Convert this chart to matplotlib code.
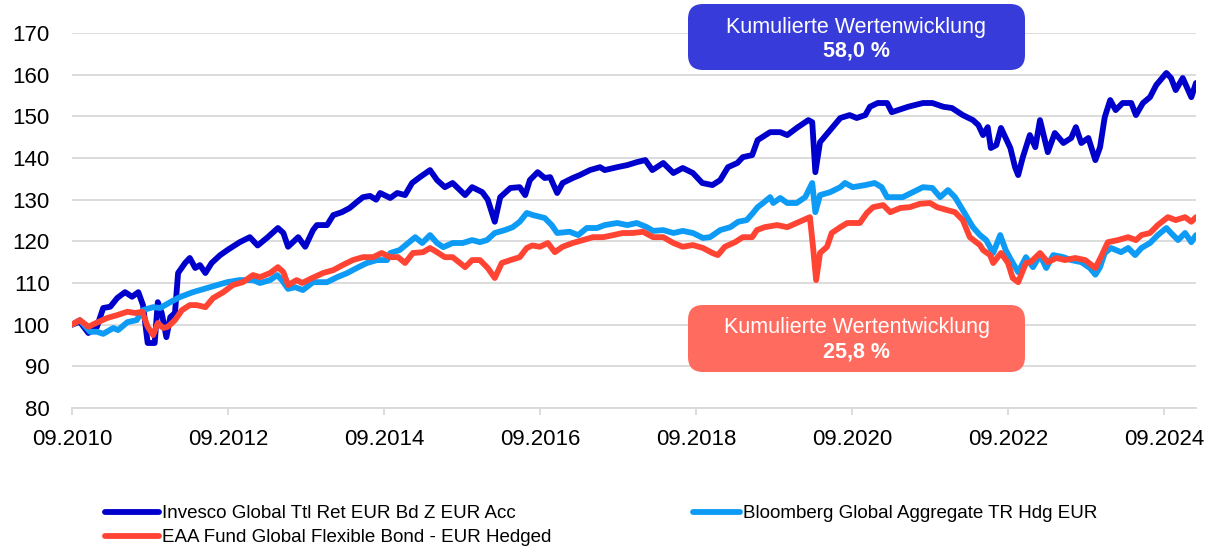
import matplotlib
matplotlib.use('Agg')
import matplotlib.pyplot as plt
from matplotlib.patches import FancyBboxPatch
from matplotlib.lines import Line2D

# Zeitachse in Dezimaljahren, Werte indexiert auf 100
inv_t = [2010.67, 2010.77, 2010.88, 2010.99, 2011.07, 2011.16, 2011.25, 2011.35, 2011.44, 2011.52,
         2011.58, 2011.64, 2011.73, 2011.77, 2011.82, 2011.88, 2011.93, 2011.99, 2012.03, 2012.12,
         2012.18, 2012.25, 2012.31, 2012.38, 2012.46, 2012.57, 2012.67, 2012.82, 2012.95, 2013.05,
         2013.18, 2013.31, 2013.38, 2013.44, 2013.57, 2013.66, 2013.76, 2013.81, 2013.94, 2014.02,
         2014.13, 2014.23, 2014.32, 2014.40, 2014.49, 2014.57, 2014.62, 2014.75, 2014.84, 2014.94,
         2015.03, 2015.13, 2015.26, 2015.35, 2015.45, 2015.55, 2015.71, 2015.80, 2015.93, 2016.00,
         2016.09, 2016.16, 2016.29, 2016.41, 2016.48, 2016.54, 2016.64, 2016.73, 2016.80, 2016.89,
         2016.96, 2017.09, 2017.18, 2017.31, 2017.44, 2017.50, 2017.66, 2017.79, 2017.91, 2018.02,
         2018.11, 2018.25, 2018.38, 2018.50, 2018.63, 2018.75, 2018.88, 2018.98, 2019.08, 2019.20,
         2019.27, 2019.39, 2019.46, 2019.62, 2019.75, 2019.84, 2019.96, 2020.11, 2020.16, 2020.20,
         2020.26, 2020.39, 2020.52, 2020.64, 2020.73, 2020.84, 2020.90, 2021.00, 2021.12, 2021.18,
         2021.26, 2021.39, 2021.58, 2021.70, 2021.84, 2021.95, 2022.09, 2022.22, 2022.29, 2022.35,
         2022.41, 2022.45, 2022.52, 2022.58, 2022.64, 2022.70, 2022.76, 2022.80, 2022.86, 2022.95,
         2023.02, 2023.08, 2023.18, 2023.27, 2023.38, 2023.48, 2023.54, 2023.61, 2023.70, 2023.79,
         2023.85, 2023.91, 2023.98, 2024.05, 2024.14, 2024.25, 2024.31, 2024.40, 2024.49, 2024.57,
         2024.70, 2024.76, 2024.82, 2024.91, 2024.98, 2025.02, 2025.08]
inv_v = [100.0, 100.7, 98.0, 99.5, 104.0, 104.3, 106.4, 107.8, 106.7, 107.8,
         104.7, 95.6, 95.6, 105.4, 102.8, 97.0, 101.8, 102.8, 112.4, 114.8,
         116.0, 113.6, 114.3, 112.4, 114.8, 116.7, 118.0, 119.8, 121.0, 119.0,
         121.0, 123.2, 122.0, 118.7, 121.0, 118.7, 122.7, 123.9, 123.9, 126.3,
         127.0, 128.0, 129.4, 130.6, 130.9, 130.0, 131.6, 130.4, 131.6, 131.1,
         134.0, 135.4, 137.1, 134.7, 133.0, 134.0, 131.1, 133.0, 131.8, 130.0,
         124.7, 130.6, 132.8, 133.0, 131.1, 134.7, 136.6, 135.2, 135.4, 131.6,
         134.0, 135.2, 135.9, 137.1, 137.8, 137.1, 137.8, 138.3, 139.0, 139.5,
         137.1, 138.8, 136.4, 137.6, 136.4, 134.0, 133.5, 134.7, 137.8, 138.8,
         140.2, 140.7, 144.3, 146.2, 146.2, 145.5, 147.2, 149.1, 148.6, 136.6,
         143.8, 146.7, 149.6, 150.3, 149.6, 150.3, 152.3, 153.2, 153.2, 151.0,
         151.5, 152.3, 153.2, 153.2, 152.3, 152.0, 150.3, 149.1, 147.9, 145.5,
         147.4, 142.4, 143.1, 147.2, 144.8, 142.4, 137.8, 135.9, 140.2, 145.5,
         142.6, 149.1, 141.4, 146.0, 143.6, 144.8, 147.4, 143.6, 144.8, 139.5,
         142.6, 149.8, 153.9, 151.5, 153.2, 153.2, 150.3, 153.2, 154.6, 157.5,
         160.4, 159.2, 156.3, 159.2, 156.3, 154.6, 158.0]

bbg_t = [2010.67, 2010.77, 2010.90, 2010.99, 2011.07, 2011.20, 2011.26, 2011.38, 2011.50, 2011.58,
         2011.71, 2011.80, 2011.93, 2012.05, 2012.22, 2012.40, 2012.53, 2012.66, 2012.82, 2012.99,
         2013.08, 2013.21, 2013.30, 2013.36, 2013.44, 2013.53, 2013.63, 2013.76, 2013.94, 2014.07,
         2014.20, 2014.32, 2014.45, 2014.58, 2014.71, 2014.75, 2014.87, 2014.98, 2015.07, 2015.16,
         2015.26, 2015.35, 2015.43, 2015.55, 2015.68, 2015.80, 2015.90, 2015.99, 2016.09, 2016.22,
         2016.32, 2016.41, 2016.50, 2016.58, 2016.73, 2016.82, 2016.89, 2017.05, 2017.16, 2017.27,
         2017.40, 2017.50, 2017.66, 2017.79, 2017.91, 2018.04, 2018.12, 2018.25, 2018.38, 2018.50,
         2018.63, 2018.76, 2018.85, 2018.98, 2019.11, 2019.21, 2019.32, 2019.40, 2019.46, 2019.53,
         2019.62, 2019.66, 2019.75, 2019.84, 2019.96, 2020.07, 2020.16, 2020.20, 2020.26, 2020.39,
         2020.52, 2020.58, 2020.68, 2020.84, 2020.96, 2021.05, 2021.12, 2021.20, 2021.32, 2021.45,
         2021.58, 2021.70, 2021.80, 2021.90, 2021.99, 2022.09, 2022.22, 2022.31, 2022.39, 2022.48,
         2022.57, 2022.64, 2022.71, 2022.80, 2022.90, 2022.99, 2023.08, 2023.16, 2023.25, 2023.38,
         2023.48, 2023.61, 2023.72, 2023.79, 2023.85, 2023.91, 2023.99, 2024.12, 2024.21, 2024.30,
         2024.38, 2024.49, 2024.59, 2024.70, 2024.76, 2024.85, 2024.94, 2025.02, 2025.08]
bbg_v = [100.0, 101.1, 98.3, 98.3, 97.8, 99.2, 98.7, 100.6, 101.1, 103.5,
         104.2, 104.0, 105.4, 106.6, 107.8, 108.8, 109.5, 110.2, 110.7, 110.7,
         110.0, 110.7, 111.9, 110.7, 108.6, 109.0, 108.3, 110.2, 110.2, 111.4,
         112.4, 113.6, 114.8, 115.5, 115.5, 117.2, 117.9, 119.6, 121.0, 119.6,
         121.5, 119.6, 118.6, 119.6, 119.6, 120.3, 119.8, 120.3, 122.0, 122.7,
         123.4, 124.7, 126.8, 126.3, 125.6, 123.9, 122.0, 122.3, 121.5, 123.2,
         123.2, 123.9, 124.4, 123.9, 124.4, 123.4, 122.5, 122.7, 122.0, 122.5,
         122.0, 120.8, 121.0, 122.7, 123.4, 124.7, 125.1, 126.8, 128.2, 129.2,
         130.6, 129.2, 130.4, 129.2, 129.2, 130.6, 134.0, 127.0, 131.1, 131.8,
         133.0, 134.0, 133.0, 133.5, 134.0, 133.0, 130.6, 130.6, 130.6, 131.8,
         133.0, 132.8, 130.6, 132.3, 130.6, 127.5, 123.4, 121.5, 120.3, 117.2,
         121.5, 117.9, 115.5, 112.6, 116.2, 113.8, 116.7, 113.6, 116.7, 116.2,
         115.5, 115.0, 113.6, 112.0, 113.8, 117.2, 118.4, 117.4, 118.4, 116.7,
         118.4, 119.6, 121.5, 123.2, 122.0, 120.3, 122.0, 119.8, 121.5]

eaa_t = [2010.67, 2010.77, 2010.88, 2010.99, 2011.12, 2011.25, 2011.38, 2011.48, 2011.57, 2011.64,
         2011.71, 2011.77, 2011.84, 2011.90, 2011.99, 2012.08, 2012.18, 2012.27, 2012.38, 2012.48,
         2012.61, 2012.73, 2012.86, 2012.99, 2013.08, 2013.21, 2013.31, 2013.38, 2013.44, 2013.55,
         2013.62, 2013.75, 2013.89, 2014.02, 2014.14, 2014.27, 2014.40, 2014.53, 2014.64, 2014.75,
         2014.85, 2014.94, 2015.04, 2015.17, 2015.26, 2015.35, 2015.45, 2015.55, 2015.71, 2015.80,
         2015.90, 2016.00, 2016.09, 2016.18, 2016.29, 2016.41, 2016.50, 2016.57, 2016.67, 2016.77,
         2016.86, 2016.96, 2017.09, 2017.22, 2017.35, 2017.48, 2017.61, 2017.73, 2017.86, 2017.99,
         2018.12, 2018.25, 2018.38, 2018.50, 2018.63, 2018.76, 2018.88, 2018.95, 2019.04, 2019.17,
         2019.27, 2019.39, 2019.45, 2019.55, 2019.71, 2019.84, 2019.96, 2020.13, 2020.17, 2020.21,
         2020.26, 2020.35, 2020.41, 2020.52, 2020.61, 2020.68, 2020.77, 2020.86, 2020.94, 2021.07,
         2021.16, 2021.29, 2021.41, 2021.54, 2021.67, 2021.76, 2021.89, 2021.99, 2022.09, 2022.18,
         2022.31, 2022.35, 2022.44, 2022.48, 2022.58, 2022.67, 2022.73, 2022.80, 2022.90, 2022.96,
         2023.08, 2023.18, 2023.29, 2023.40, 2023.53, 2023.66, 2023.79, 2023.86, 2023.95, 2024.08,
         2024.21, 2024.31, 2024.38, 2024.49, 2024.59, 2024.72, 2024.82, 2024.94, 2025.02, 2025.08]
eaa_v = [100.0, 101.1, 99.5, 100.5, 101.6, 102.3, 103.1, 102.8, 103.1, 99.5,
         97.5, 100.4, 99.2, 99.5, 101.1, 103.5, 104.7, 104.7, 104.2, 106.4,
         107.8, 109.5, 110.2, 111.9, 111.4, 112.4, 113.8, 112.6, 109.5, 110.7,
         110.0, 111.2, 112.4, 113.1, 114.3, 115.5, 116.2, 116.2, 117.2, 116.2,
         116.2, 114.8, 117.2, 117.4, 118.4, 117.4, 116.2, 116.2, 113.8, 115.5,
         115.5, 113.6, 111.2, 114.8, 115.5, 116.2, 118.4, 119.0, 118.7, 119.6,
         117.4, 118.7, 119.6, 120.3, 121.0, 121.0, 121.5, 122.0, 122.0, 122.3,
         121.0, 121.0, 119.6, 118.7, 119.1, 118.4, 117.2, 116.7, 118.7, 119.8,
         121.0, 121.0, 122.7, 123.4, 123.9, 123.4, 124.4, 125.8, 118.7, 110.7,
         117.2, 118.7, 122.0, 123.4, 124.4, 124.4, 124.4, 126.8, 128.2, 128.7,
         127.0, 128.0, 128.2, 129.0, 129.2, 128.2, 127.5, 127.0, 125.1, 121.0,
         119.1, 117.9, 116.7, 114.8, 117.2, 114.8, 111.2, 110.2, 114.8, 115.0,
         117.2, 115.0, 116.0, 115.5, 116.0, 115.5, 113.6, 116.2, 119.8, 120.3,
         121.0, 120.3, 121.5, 122.0, 123.9, 125.8, 125.1, 125.8, 124.7, 125.8]

tick_pos = [2010.67, 2012.67, 2014.67, 2016.67, 2018.67, 2020.67, 2022.67, 2024.67]
tick_lbl = ['09.2010', '09.2012', '09.2014', '09.2016', '09.2018', '09.2020', '09.2022', '09.2024']

names = ['Invesco Global Ttl Ret EUR Bd Z EUR Acc',
         'EAA Fund Global Flexible Bond - EUR Hedged',
         'Bloomberg Global Aggregate TR Hdg EUR']
c_inv, c_eaa, c_bbg = '#0000CC', '#FF4433', '#0D9BF5'

plt.rcParams['font.family'] = ['Liberation Sans', 'DejaVu Sans']

fig = plt.figure(figsize=(12.08, 5.47), dpi=100)
ax = fig.add_axes([72/1208, 139/547, 1124/1208, 375/547])

lw = 4.2
ax.plot(inv_t, inv_v, color=c_inv, lw=lw, solid_joinstyle='round', solid_capstyle='round', zorder=3)
ax.plot(bbg_t, bbg_v, color=c_bbg, lw=lw, solid_joinstyle='round', solid_capstyle='round', zorder=4)
ax.plot(eaa_t, eaa_v, color=c_eaa, lw=lw, solid_joinstyle='round', solid_capstyle='round', zorder=5)

ax.set_xlim(2010.67, 2025.08)
ax.set_ylim(80, 170)
ax.set_yticks(range(80, 171, 10))
ax.set_xticks(tick_pos)
ax.set_xticklabels(tick_lbl)
ax.grid(axis='y', color='#D9D9D9', lw=1.3, zorder=0)
ax.set_axisbelow(True)
for s in ['top', 'right', 'left']:
    ax.spines[s].set_visible(False)
ax.spines['bottom'].set_color('#D9D9D9')
ax.spines['bottom'].set_linewidth(1.3)
ax.tick_params(axis='y', length=0, pad=16, labelsize=16)
ax.tick_params(axis='x', length=5, width=1.3, color='#D9D9D9', pad=10, labelsize=16)

# Kästen mit kumulierter Wertentwicklung (Koordinaten in Zoll)
boxes = [(6.88, 4.77, 3.37, 0.66, '#373BD9', 'Kumulierte Wertenwicklung', '58,0 %', 5.20, 4.96),
         (6.88, 1.75, 3.37, 0.67, '#FF6B5E', 'Kumulierte Wertentwicklung', '25,8 %', 2.20, 1.95)]
for x0, y0, w, h, col, l1, l2, ty1, ty2 in boxes:
    fig.patches.append(FancyBboxPatch((x0, y0), w, h, boxstyle='round,pad=0,rounding_size=0.15',
                                      transform=fig.dpi_scale_trans, fc=col, ec='none', zorder=10))
    fig.text(x0 + w/2, ty1, l1, transform=fig.dpi_scale_trans, ha='center', va='center',
             color='white', fontsize=15.5, zorder=11)
    fig.text(x0 + w/2, ty2, l2, transform=fig.dpi_scale_trans, ha='center', va='center',
             color='white', fontsize=15.5, fontweight='bold', zorder=11)

# Legende unten, zwei Spalten
leg_font = {'family': 'Liberation Sans', 'size': 13.5}
h1 = [Line2D([], [], color=c_inv, lw=lw, solid_capstyle='round'),
      Line2D([], [], color=c_eaa, lw=lw, solid_capstyle='round')]
h2 = [Line2D([], [], color=c_bbg, lw=lw, solid_capstyle='round')]
fig.legend(h1, names[:2], loc='upper left', bbox_to_anchor=(105/1208, 42/547), frameon=False,
           borderpad=0, borderaxespad=0, handlelength=2.9, handletextpad=0.15, labelspacing=0.37,
           prop=leg_font)
fig.legend(h2, names[2:], loc='upper left', bbox_to_anchor=(693/1208, 42/547), frameon=False,
           borderpad=0, borderaxespad=0, handlelength=2.5, handletextpad=0.15, prop=leg_font)

fig.savefig('out.png', dpi=100)
